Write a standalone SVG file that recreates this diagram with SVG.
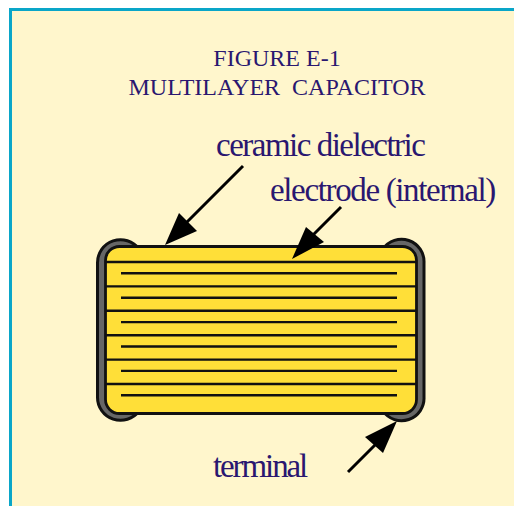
<svg xmlns="http://www.w3.org/2000/svg" width="514" height="506" viewBox="0 0 514 506">
<style>
.t{font-family:"Liberation Serif","Times New Roman",serif;fill:#2a1770}
.title{font-size:24px;text-anchor:middle}
.lab{font-size:33px;letter-spacing:-1.5px}
.ln{stroke:#111;stroke-width:2.400;fill:none}
.ar{stroke:#000;stroke-width:3;fill:none}
.term{fill:#666;stroke:#111;stroke-width:3}
</style>
<rect width="514" height="506" fill="#fff"/>
<g id="panel"><rect x="10.500" y="9.500" width="520" height="520" fill="#fff6cc" stroke="#0aa6c8" stroke-width="3"/></g>
<g id="title"><text class="t title" x="277" y="66">FIGURE E-1</text><text class="t title" x="277" y="95" xml:space="preserve">MULTILAYER  CAPACITOR</text></g>
<g id="capacitor">
<path class="term" d="M139 249A23 23 0 0 0 97.500 263V397A23 23 0 0 0 139 411Z"/>
<path class="term" d="M383 249A22.500 22.500 0 0 1 424 263V397A22.500 22.500 0 0 1 383 411Z"/>
<rect x="105.500" y="246.500" width="311" height="167" rx="14" fill="#ffdf38" stroke="#111" stroke-width="2.800"/>
<g class="ln">
<path d="M106 262H416M106 286.400H416M106 310.800H416M106 335.200H416M106 359.600H416M106 384H416"/>
<path d="M121 273.300H397M121 297.700H397M121 322.100H397M121 346.500H397M121 370.900H397M121 395.300H397"/>
</g>
</g>
<g id="connectors">
<path class="ar" d="M243 166L183 226"/><polygon points="165,245 179,213 197,231"/>
<path class="ar" d="M341 207L308 240"/><polygon points="292,259 306,227 324,242"/>
<path class="ar" d="M348 472L380 440"/><polygon points="397,421 365,437 383,453"/>
</g>
<g id="labels">
<text class="t lab" x="216" y="156">ceramic dielectric</text>
<text class="t lab" x="270" y="201" style="letter-spacing:-1.350px">electrode (internal)</text>
<text class="t lab" x="213" y="477" style="letter-spacing:-2.100px">terminal</text>
</g>
</svg>
